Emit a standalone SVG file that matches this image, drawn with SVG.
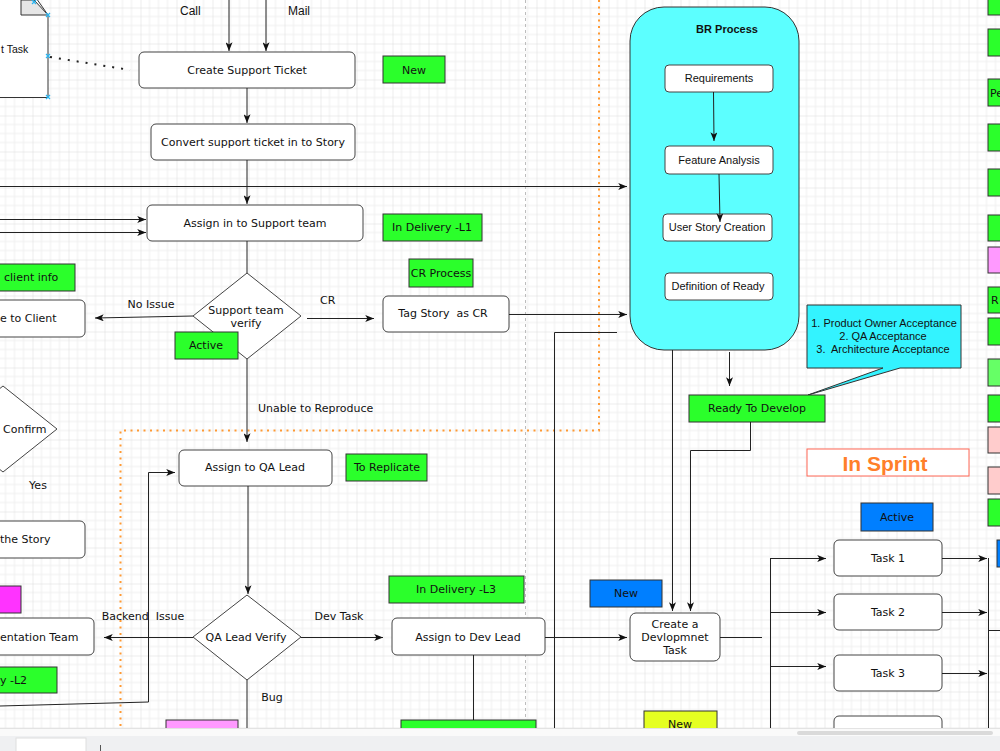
<svg xmlns="http://www.w3.org/2000/svg" width="1000" height="751" viewBox="0 0 1000 751">
<defs>
<pattern id="grid" x="32.5" y="7.5" width="36" height="36" patternUnits="userSpaceOnUse">
<path d="M9,0V36M18,0V36M27,0V36M0,9H36M0,18H36M0,27H36" stroke="#efefef" stroke-width="1" fill="none"/>
<path d="M0,0V36M0,0H36" stroke="#dadada" stroke-width="1" fill="none"/>
</pattern>
<marker id="ah" viewBox="0 0 10 8" markerUnits="userSpaceOnUse" markerWidth="9" markerHeight="7" refX="10" refY="4" orient="auto">
<path d="M0,0 L10,4 L0,8 L2.5,4 z" fill="#111"/>
</marker>
<style>
.box{fill:#fff;stroke:#444;stroke-width:1}
.g{fill:#2BFF2B;stroke:#333;stroke-width:1}
.pk{fill:#FF99FF;stroke:#333;stroke-width:1}
.lpk{fill:#FFCCCC;stroke:#333;stroke-width:1}
.bl{fill:#007FFF;stroke:#333;stroke-width:1}
.t{font-family:"DejaVu Sans",Verdana,sans-serif;font-size:11px;fill:#111;text-anchor:middle}
.ts{font-family:"DejaVu Sans",Verdana,sans-serif;font-size:11px;fill:#111}
.h{font-family:"Liberation Sans",Arial,sans-serif;font-size:11px;fill:#111;text-anchor:middle}
.ln{stroke:#222;stroke-width:1;fill:none}
.ar{marker-end:url(#ah)}
.xm{stroke:#29B6F2;stroke-width:1.2}
</style>
</defs>
<rect x="0" y="0" width="1000" height="728" fill="#fff"/>
<rect x="0" y="0" width="1000" height="728" fill="url(#grid)"/>
<g id="guides">
<line x1="525.5" y1="0" x2="525.5" y2="728" stroke="#bdbdbd" stroke-dasharray="3 3"/>
<path d="M599,0 V430.5 H120.5 V728" fill="none" stroke="#FF9933" stroke-width="2" stroke-dasharray="2 4.5"/>
</g>
<g id="doc-task">
<path d="M-10,-5 H34 L48,15 V97.5 H-10 Z" fill="#fff" stroke="#333"/>
<path d="M21,0 H34 L48,15 H21 Z" fill="#e6e6e6" stroke="#333"/>
<path class="xm" d="M32,0 L36,4 M36,0 L32,4 M46,13 L50,17 M50,13 L46,17 M46,54 L50,58 M50,54 L46,58 M46,95 L50,99 M50,95 L46,99"/>
<text class="h" x="1" y="53" style="text-anchor:start;font-size:10.5px">t Task</text>
</g>
<g id="create-ticket"><rect class="box" x="139" y="52" width="216" height="36" rx="5"/><text class="t" x="247" y="74">Create Support Ticket</text></g>
<g id="new1"><rect class="g" x="383" y="56" width="62" height="27"/><text class="t" x="414" y="74">New</text></g>
<g id="convert"><rect class="box" x="151" y="124" width="204" height="36" rx="5"/><text class="t" x="253" y="146">Convert support ticket in to Story</text></g>
<g id="assign-support"><rect class="box" x="147" y="205" width="216" height="36" rx="5"/><text class="t" x="255" y="227">Assign in to Support team</text></g>
<g id="l1"><rect class="g" x="383" y="214" width="99" height="27"/><text class="t" x="432" y="231">In Delivery -L1</text></g>
<g id="client-info"><rect class="g" x="-10" y="264" width="85" height="27"/><text class="ts" x="4" y="281">client info</text></g>
<g id="resp-client"><rect class="box" x="-20" y="300" width="105" height="37" rx="5"/><text class="ts" x="0" y="322">e to Client</text></g>
<g id="support-verify"><polygon class="box" points="247,273 301,316 247,359 193,316"/><text class="t" x="246" y="314">Support team</text><text class="t" x="246" y="327">verify</text></g>
<g id="active1"><rect class="g" x="175" y="332" width="63" height="27"/><text class="t" x="206" y="349">Active</text></g>
<g id="cr-process"><rect class="g" x="409" y="259" width="64" height="28"/><text class="t" x="441" y="277">CR Process</text></g>
<g id="tag-cr"><rect class="box" x="383" y="296" width="126" height="36" rx="5"/><text class="t" x="443" y="317">Tag Story&#160; as CR</text></g>
<g id="br-process"><rect x="630" y="7" width="169" height="343" rx="34" fill="#5CFFFF" stroke="#333"/><text class="h" x="727" y="33" style="font-weight:bold">BR Process</text></g>
<g id="requirements"><rect class="box" x="665" y="65" width="108" height="27" rx="4"/><text class="h" x="719" y="82">Requirements</text></g>
<g id="feature"><rect class="box" x="665" y="146" width="108" height="28" rx="4"/><text class="h" x="719" y="164">Feature Analysis</text></g>
<g id="user-story"><rect class="box" x="663" y="214" width="109" height="27" rx="4"/><text class="h" x="717" y="231">User Story Creation</text></g>
<g id="dor"><rect class="box" x="665" y="273" width="108" height="27" rx="4"/><text class="h" x="718" y="290">Definition of Ready</text></g>
<g id="callout"><path d="M807,305 H961 V368 H900 L808,395 L883,368 H807 Z" fill="#33F3FF" stroke="#333"/>
<text class="h" x="884" y="327">1. Product Owner Acceptance</text><text class="h" x="883" y="340">2. QA Acceptance</text><text class="h" x="883" y="353" xml:space="preserve">3.  Architecture Acceptance</text></g>
<g id="ready"><rect class="g" x="689" y="395" width="136" height="27"/><text class="t" x="757" y="412">Ready To Develop</text></g>
<g id="in-sprint"><rect x="807" y="449" width="162" height="27" fill="#fff" stroke="#FF6655"/><text class="h" x="885" y="471" style="font-weight:bold;font-size:21px;fill:#FF7F2A">In Sprint</text></g>
<g id="confirm"><polygon class="box" points="3,386 57,429 3,472 -51,429"/><text class="ts" x="3" y="433">Confirm</text></g>
<g id="the-story"><rect class="box" x="-20" y="521" width="105" height="37" rx="5"/><text class="ts" x="0" y="543">the Story</text></g>
<g id="magenta"><rect x="-10" y="586" width="31" height="27" fill="#FF33FF" stroke="#333"/></g>
<g id="doc-team"><rect class="box" x="-20" y="618" width="114" height="37" rx="5"/><text class="ts" x="0" y="641">entation Team</text></g>
<g id="l2"><rect class="g" x="-10" y="667" width="67" height="26"/><text class="ts" x="0" y="684">y -L2</text></g>
<g id="assign-qa"><rect class="box" x="179" y="450" width="153" height="36" rx="5"/><text class="t" x="255" y="471">Assign to QA Lead</text></g>
<g id="to-replicate"><rect class="g" x="346" y="454" width="81" height="27"/><text class="t" x="387" y="471">To Replicate</text></g>
<g id="qa-verify"><polygon class="box" points="247,595 301,637 247,680 193,637"/><text class="t" x="246" y="641">QA Lead Verify</text></g>
<g id="l3"><rect class="g" x="389" y="576" width="135" height="27"/><text class="t" x="456" y="593">In Delivery -L3</text></g>
<g id="assign-dev"><rect class="box" x="392" y="618" width="153" height="37" rx="5"/><text class="t" x="468" y="641">Assign to Dev Lead</text></g>
<g id="pink-bottom"><rect class="pk" x="166" y="720" width="72" height="20"/></g>
<g id="green-bottom"><rect class="g" x="401" y="720" width="135" height="20"/></g>
<g id="new-blue"><rect class="bl" x="590" y="580" width="72" height="27"/><text class="t" x="626" y="597">New</text></g>
<g id="create-dev"><rect class="box" x="630" y="613" width="90" height="48" rx="6"/><text class="t" x="675" y="628">Create a</text><text class="t" x="675" y="641">Devlopmnet</text><text class="t" x="675" y="654">Task</text></g>
<g id="new-yellow"><rect x="644" y="711" width="73" height="30" fill="#E5FF22" stroke="#333"/><text class="t" x="680" y="728">New</text></g>
<g id="active-blue"><rect class="bl" x="861" y="503" width="72" height="28"/><text class="t" x="897" y="521">Active</text></g>
<g id="task1"><rect class="box" x="834" y="540" width="108" height="36" rx="5"/><text class="t" x="888" y="562">Task 1</text></g>
<g id="task2"><rect class="box" x="834" y="594" width="108" height="36" rx="5"/><text class="t" x="888" y="616">Task 2</text></g>
<g id="task3"><rect class="box" x="834" y="655" width="108" height="36" rx="5"/><text class="t" x="888" y="677">Task 3</text></g>
<g id="task4"><rect class="box" x="834" y="716" width="108" height="30" rx="5"/></g>
<g id="right-column">
<rect class="g" x="988" y="-5" width="20" height="20"/>
<rect class="g" x="988" y="29" width="20" height="27"/>
<rect class="g" x="988" y="79" width="20" height="27"/><text class="ts" x="990" y="97">Pe</text>
<rect class="g" x="988" y="124" width="20" height="27"/>
<rect class="g" x="988" y="169" width="20" height="27"/>
<rect class="g" x="988" y="215" width="20" height="26"/>
<rect class="pk" x="988" y="247" width="20" height="26"/>
<rect class="g" x="988" y="287" width="20" height="26"/><text class="ts" x="991" y="304">R</text>
<rect class="g" x="988" y="318" width="20" height="27"/>
<rect x="988" y="359" width="20" height="27" fill="#66FF66" stroke="#333"/>
<rect class="g" x="988" y="395" width="20" height="27"/>
<rect class="lpk" x="988" y="427" width="20" height="26"/>
<rect class="lpk" x="988" y="467" width="20" height="27"/>
<rect class="g" x="988" y="499" width="20" height="27"/>
<rect class="bl" x="997" y="540" width="20" height="27"/>
</g>
<g id="labels">
<text class="h" x="180" y="15" style="text-anchor:start;font-size:12px">Call</text>
<text class="h" x="288" y="15" style="text-anchor:start;font-size:12px">Mail</text>
<text class="t" x="151" y="308">No Issue</text>
<text class="ts" x="320" y="304">CR</text>
<text class="ts" x="258" y="412">Unable to Reproduce</text>
<text class="t" x="38" y="489">Yes</text>
<text class="t" x="143" y="620" xml:space="preserve">Backend  Issue</text>
<text class="t" x="339" y="620">Dev Task</text>
<text class="t" x="272" y="701">Bug</text>
</g>
<g id="connectors">
<path class="ln ar" d="M229,0 V51"/>
<path class="ln ar" d="M266,0 V51"/>
<path d="M50,57 L130,70" stroke="#222" stroke-width="2" stroke-dasharray="2 7" fill="none"/>
<path class="ln ar" d="M247,88 V123"/>
<path class="ln ar" d="M247,160 V204"/>
<path class="ln ar" d="M0,186.5 H627"/>
<path class="ln ar" d="M0,219.5 H146"/>
<path class="ln ar" d="M0,232.5 H146"/>
<path class="ln" d="M247,241 V273"/>
<path class="ln ar" d="M193,316 L95,318"/>
<path class="ln ar" d="M307,318.5 H374"/>
<path class="ln ar" d="M509,314.5 H627"/>
<path class="ln" d="M617,332.5 H554.5 V728"/>
<path class="ln ar" d="M247,359 V442"/>
<path class="ln ar" d="M248,486 V594"/>
<path class="ln ar" d="M0,706 L148.5,702 V472.5 H175"/>
<path class="ln ar" d="M193,637.5 H104"/>
<path class="ln ar" d="M301,637.5 H383"/>
<path class="ln" d="M247,680 V728"/>
<path class="ln ar" d="M545,637.5 H627"/>
<path class="ln" d="M473.5,655 V720"/>
<path class="ln" d="M720,637.5 H762"/>
<path class="ln ar" d="M713.5,92 L714,141"/>
<path class="ln ar" d="M719,174 L720,222"/>
<path class="ln ar" d="M729.5,352 V386"/>
<path class="ln ar" d="M672.5,350 V611"/>
<path class="ln ar" d="M750.5,422 V450.5 H690.5 V611"/>
<path class="ln" d="M770.5,558 V728"/>
<path class="ln ar" d="M770,558.5 H826"/>
<path class="ln ar" d="M770,612.5 H826"/>
<path class="ln ar" d="M770,666.5 H826"/>
<path class="ln ar" d="M942,558.5 H987"/>
<path class="ln ar" d="M942,612.5 H987"/>
<path class="ln ar" d="M942,673.5 H987"/>
<path class="ln" d="M988.5,558 V728 M988,630.5 H1000"/>
</g>
<g id="ui-bar">
<rect x="0" y="728" width="1000" height="8" fill="#fafafa"/>
<line x1="0" y1="728.5" x2="1000" y2="728.5" stroke="#e3e3e3"/>
<rect x="797" y="731" width="196" height="4" rx="2" fill="#dadada"/>
<rect x="0" y="736" width="1000" height="15" fill="#eff0f2"/>
<rect x="16" y="738" width="70" height="14" fill="#fff" stroke="#dedede"/>
<line x1="100.5" y1="745" x2="100.5" y2="751" stroke="#555"/>
</g>
</svg>
